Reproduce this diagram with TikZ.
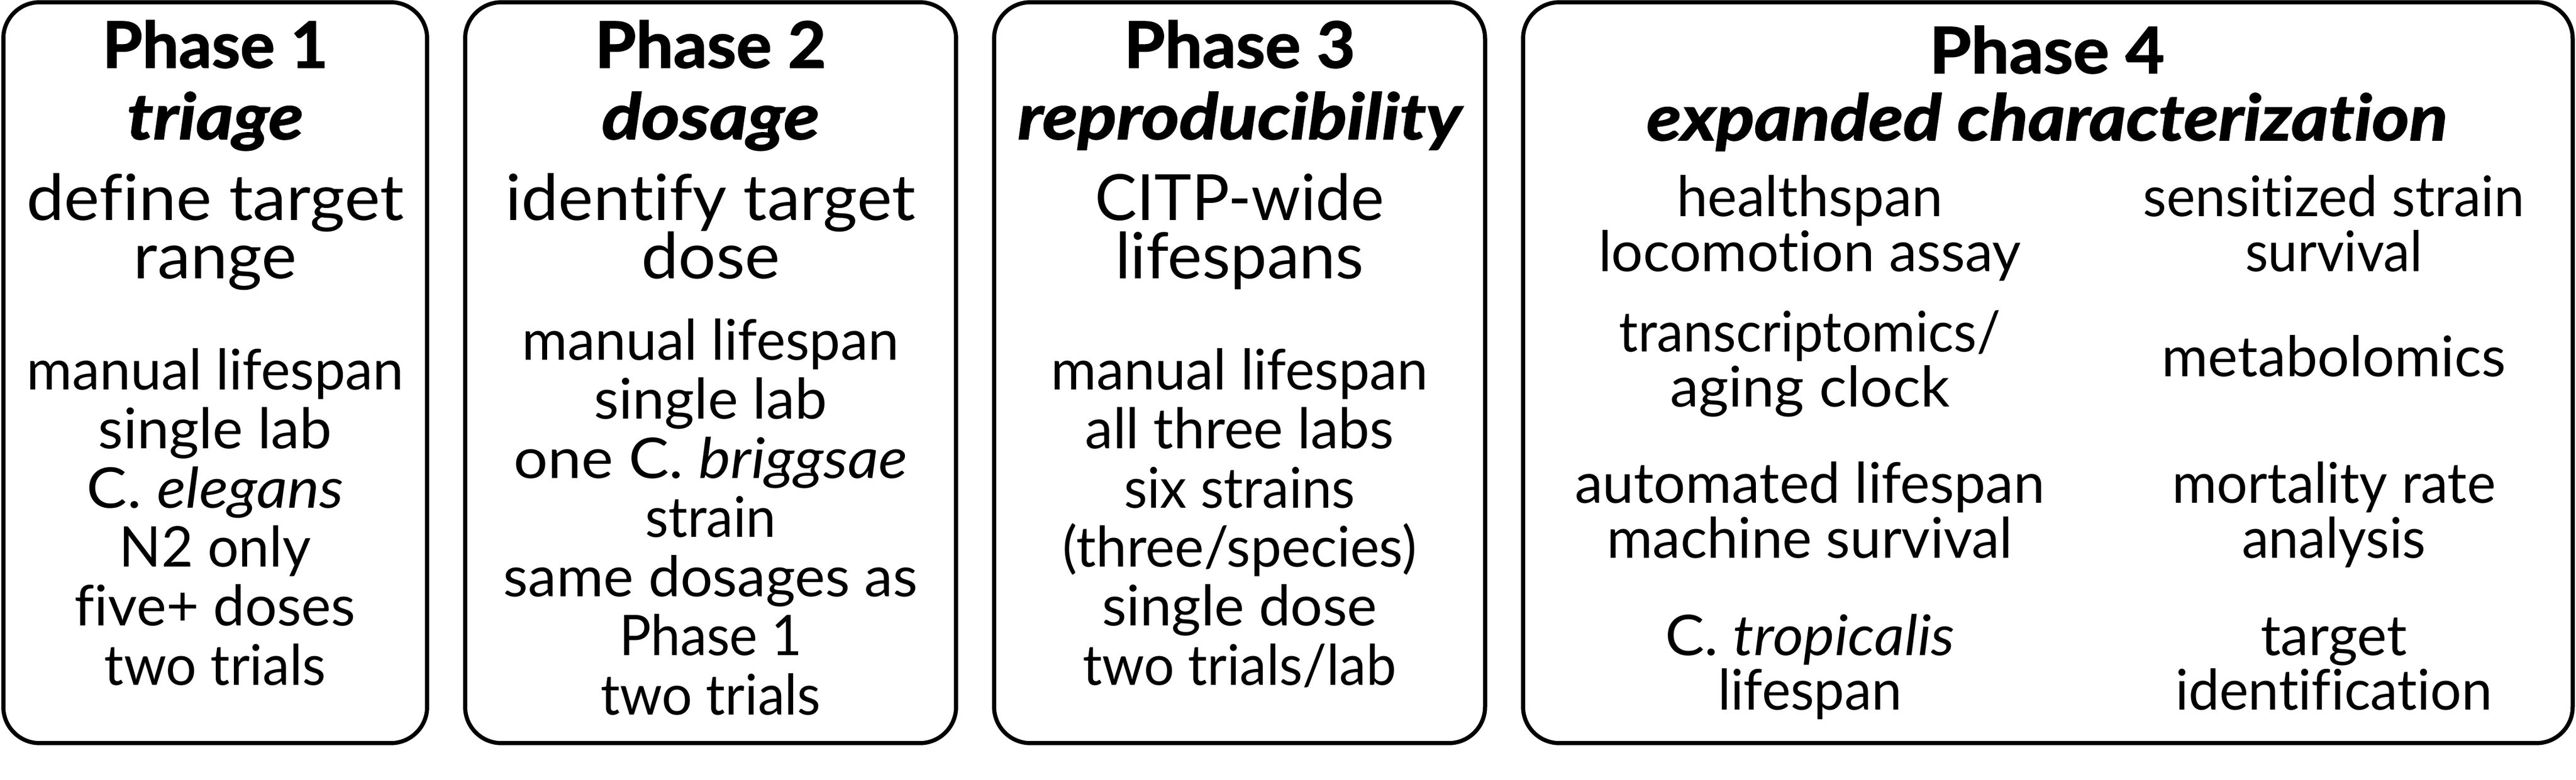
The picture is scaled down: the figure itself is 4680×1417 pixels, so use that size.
\documentclass[tikz,border=0pt]{standalone}
\usepackage{fontspec}
\setmainfont{Lato}[Ligatures=NoCommon, BoldFeatures={FakeBold=1.6}, BoldItalicFeatures={FakeBold=1.6}]
\usepackage{graphicx}
\newlength\pxu \setlength\pxu{0.1pt}
\newcommand\fitw[2]{\resizebox{#1\pxu}{\height}{#2}}
\newcommand\fsm{\fontsize{10.2pt}{12pt}\selectfont}
\newcommand\fmd{\fontsize{11.6pt}{13pt}\selectfont}
\newcommand\fhd{\fontsize{11.6pt}{13pt}\selectfont\bfseries}
\begin{document}
\begin{tikzpicture}[x=0.1pt, y=-0.1pt,
  txt/.style={anchor=base, inner sep=0pt, outer sep=0pt},
  phase/.style={draw=black, line width=0.75pt, rounded corners=6.6pt,
                minimum height=134.7pt, inner sep=0pt}]
\useasboundingbox (0,0) rectangle (4680,1417);
% boxes
\node[phase, minimum width=77pt]   (box1) at (391,677.5)  {};
\node[phase, minimum width=89.2pt] (box2) at (1291,677.5) {};
\node[phase, minimum width=89.2pt] (box3) at (2252,677.5) {};
\node[phase, minimum width=190.7pt](box4) at (3720.5,677.5) {};
% Phase 1
\node[txt] (a1) at (391,123)  {\fhd\fitw{410}{Phase 1}};
\node[txt] (a2) at (391,253)  {\fhd\itshape\fitw{320}{triage}};
\node[txt] (a3) at (391,400)  {\fmd\fitw{685}{define target}};
\node[txt] (a4) at (391,506)  {\fmd\fitw{296}{range}};
\node[txt] (a5) at (391,708)  {\fsm\fitw{685}{manual lifespan}};
\node[txt] (a6) at (391,815)  {\fsm\fitw{424}{single lab}};
\node[txt] (a7) at (391,923)  {\fsm\fitw{466}{C. \textit{elegans}}};
\node[txt] (a8) at (391,1030) {\fsm\fitw{348}{N2 only}};
\node[txt] (a9) at (391,1137) {\fsm\fitw{510}{five+ doses}};
\node[txt] (a10) at (391,1245){\fsm\fitw{402}{two trials}};
% Phase 2
\node[txt] (b1) at (1291,123)  {\fhd\fitw{420}{Phase 2}};
\node[txt] (b2) at (1291,253)  {\fhd\itshape\fitw{395}{dosage}};
\node[txt] (b3) at (1291,400)  {\fmd\fitw{744}{identify target}};
\node[txt] (b4) at (1291,506)  {\fmd\fitw{252}{dose}};
\node[txt] (b5) at (1291,654)  {\fsm\fitw{684}{manual lifespan}};
\node[txt] (b6) at (1291,761)  {\fsm\fitw{423}{single lab}};
\node[txt] (b7) at (1291,869)  {\fsm\fitw{715}{one C. \textit{briggsae}}};
\node[txt] (b8) at (1291,976)  {\fsm\fitw{238}{strain}};
\node[txt] (b9) at (1291,1084) {\fsm\fitw{752}{same dosages as}};
\node[txt] (b10) at (1291,1191){\fsm\fitw{332}{Phase 1}};
\node[txt] (b11) at (1291,1299){\fsm\fitw{400}{two trials}};
% Phase 3
\node[txt] (c1) at (2252,123)  {\fhd\fitw{420}{Phase 3}};
\node[txt] (c2) at (2252,253)  {\fhd\itshape\fitw{806}{reproducibility}};
\node[txt] (c3) at (2252,400)  {\fmd\fitw{525}{CITP-wide}};
\node[txt] (c4) at (2252,506)  {\fmd\fitw{452}{lifespans}};
\node[txt] (c5) at (2252,708)  {\fsm\fitw{685}{manual lifespan}};
\node[txt] (c6) at (2252,815)  {\fsm\fitw{561}{all three labs}};
\node[txt] (c7) at (2252,923)  {\fsm\fitw{420}{six strains}};
\node[txt] (c8) at (2252,1030) {\fsm\fitw{643}{(three/species)}};
\node[txt] (c9) at (2252,1137) {\fsm\fitw{500}{single dose}};
\node[txt] (c10) at (2252,1245){\fsm\fitw{570}{two trials/lab}};
% Phase 4
\node[txt] (d1) at (3719,133)  {\fhd\fitw{427}{Phase 4}};
\node[txt] (d2) at (3719,255)  {\fhd\itshape\fitw{1455}{expanded characterization}};
\node[txt] (d3) at (3288,393)  {\fsm\fitw{483}{healthspan}};
\node[txt] (d4) at (3288,493)  {\fsm\fitw{768}{locomotion assay}};
\node[txt] (d5) at (3288,639)  {\fsm\fitw{693}{transcriptomics/}};
\node[txt] (d6) at (3288,739)  {\fsm\fitw{508}{aging clock}};
\node[txt] (d7) at (3288,914)  {\fsm\fitw{854}{automated lifespan}};
\node[txt] (d8) at (3288,1014) {\fsm\fitw{737}{machine survival}};
\node[txt] (d9) at (3288,1191) {\fsm\fitw{526}{C. \textit{tropicalis}}};
\node[txt] (d10) at (3288,1290){\fsm\fitw{334}{lifespan}};
\node[txt] (e1) at (4240,393)  {\fsm\fitw{693}{sensitized strain}};
\node[txt] (e2) at (4240,493)  {\fsm\fitw{322}{survival}};
\node[txt] (e3) at (4240,684)  {\fsm\fitw{625}{metabolomics}};
\node[txt] (e4) at (4240,914)  {\fsm\fitw{588}{mortality rate}};
\node[txt] (e5) at (4240,1014) {\fsm\fitw{334}{analysis}};
\node[txt] (e6) at (4240,1191) {\fsm\fitw{266}{target}};
\node[txt] (e7) at (4240,1290) {\fsm\fitw{576}{identification}};
\end{tikzpicture}
\end{document}
